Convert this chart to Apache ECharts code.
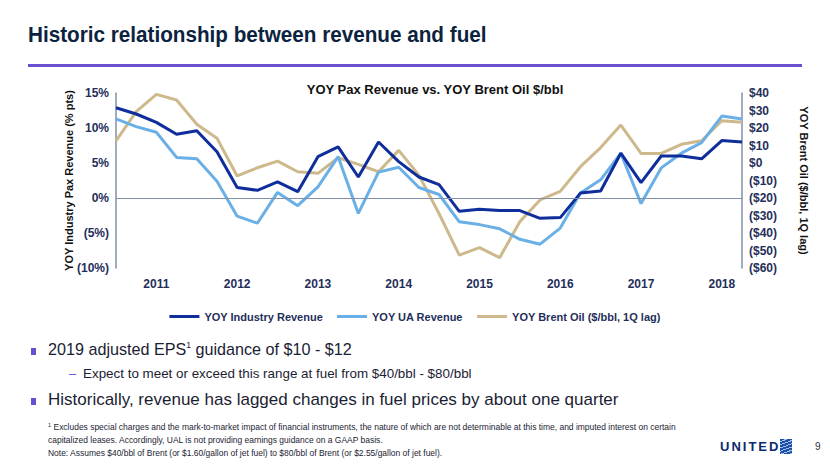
<!DOCTYPE html>
<html>
<head>
<meta charset="utf-8">
<script src="https://cdn.jsdelivr.net/npm/echarts@6/dist/echarts.min.js"></script>
<style>
  html, body { margin:0; padding:0; width:830px; height:467px; overflow:hidden; background:#fff; }
  #chart { position:absolute; left:0; top:0; width:830px; height:467px; }
  .t { position:absolute; white-space:nowrap; font-family:"Liberation Sans Narrow","Arial Narrow","Liberation Sans",Arial,sans-serif; transform-origin:left top; }
</style>
</head>
<body>
<div id="chart"></div>
<div class="t" style="left:28px;top:22px;font-size:22px;font-weight:bold;color:#0c2340;transform:scaleX(0.94);">Historic relationship between revenue and fuel</div>
<div style="position:absolute;left:28px;top:64px;width:774px;height:3px;background:#6a4fd0;"></div>
<div style="position:absolute;left:31px;top:348px;width:5px;height:7px;background:#6a4fd0;"></div>
<div class="t" style="left:48px;top:340px;font-size:17px;color:#1b1d33;transform:scaleX(0.95);">2019 adjusted EPS<sup style="font-size:9px;vertical-align:7px;line-height:0;">1</sup> guidance of $10 - $12</div>
<div class="t" style="left:69px;top:366px;font-size:13px;color:#6a4fd0;">–</div>
<div class="t" style="left:83px;top:366px;font-size:13.4px;color:#1b1d33;">Expect to meet or exceed this range at fuel from $40/bbl - $80/bbl</div>
<div style="position:absolute;left:31px;top:398px;width:5px;height:7px;background:#6a4fd0;"></div>
<div class="t" style="left:48px;top:390px;font-size:17px;color:#1b1d33;">Historically, revenue has lagged changes in fuel prices by about one quarter</div>
<div class="t" style="left:48px;top:421px;font-size:9px;line-height:13px;color:#1b1d33;transform:scaleX(0.94);"><sup style="font-size:6px;vertical-align:3px;line-height:0;">1</sup> Excludes special charges and the mark-to-market impact of financial instruments, the nature of which are not determinable at this time, and imputed interest on certain<br>capitalized leases. Accordingly, UAL is not providing earnings guidance on a GAAP basis.<br>Note: Assumes $40/bbl of Brent (or $1.60/gallon of jet fuel) to $80/bbl of Brent (or $2.55/gallon of jet fuel).</div>
<div class="t" style="left:720px;top:439px;font-size:13px;font-weight:bold;letter-spacing:2px;color:#0b2a6e;font-family:'Liberation Sans',Arial,sans-serif;">UNITED</div>
<div style="position:absolute;left:780px;top:439px;width:12px;height:15px;background:repeating-linear-gradient(160deg,#1e4fa8 0 2px,#9fc2ea 2px 3px);"></div>
<div class="t" style="left:815px;top:441px;font-size:10px;color:#333;font-family:'Liberation Sans',Arial,sans-serif;">9</div>
<script>
// Quarterly categories (3Q10 .. 2Q18)
const quarters = ['3Q10','4Q10',
  '1Q11','2Q11','3Q11','4Q11',
  '1Q12','2Q12','3Q12','4Q12',
  '1Q13','2Q13','3Q13','4Q13',
  '1Q14','2Q14','3Q14','4Q14',
  '1Q15','2Q15','3Q15','4Q15',
  '1Q16','2Q16','3Q16','4Q16',
  '1Q17','2Q17','3Q17','4Q17',
  '1Q18','2Q18'];
// YOY Industry Revenue (% pts)
const industryRevenue = [12.9, 12.0, 10.8, 9.1, 9.6, 6.6, 1.5, 1.1, 2.3, 0.9, 5.9, 7.3, 3.0, 8.0, 5.2, 3.0,
  1.9, -1.9, -1.6, -1.8, -1.8, -2.9, -2.8, 0.7, 1.0, 6.4, 2.2, 6.0, 6.0, 5.6, 8.2, 8.0];
// YOY UA Revenue (% pts)
const uaRevenue = [11.3, 10.2, 9.4, 5.8, 5.6, 2.4, -2.6, -3.6, 0.8, -1.1, 1.6, 5.9, -2.2, 3.7, 4.4, 1.5,
  0.5, -3.4, -3.8, -4.4, -5.9, -6.6, -4.3, 0.7, 2.6, 6.4, -0.8, 4.3, 6.4, 7.9, 11.7, 11.3];
// YOY Brent Oil ($/bbl, 1Q lag)
const brentOil = [12.6, 29.3, 39.2, 36.0, 22.1, 14.1, -7.4, -2.7, 1.1, -5.0, -5.9, 3.0, -0.8, -5.0, 7.2, -6.9,
  -29.0, -52.6, -48.4, -54.1, -33.5, -21.1, -16.2, -2.1, 8.8, 21.7, 5.5, 5.5, 10.7, 12.7, 24.2, 23.3];
// Axis ticks
const leftTicks = {min: -10, max: 15, interval: 5};
const rightTicks = {min: -60, max: 40, interval: 10};
const seriesNames = ['YOY Industry Revenue', 'YOY UA Revenue', 'YOY Brent Oil ($/bbl, 1Q lag)'];
const chartTitle = 'YOY Pax Revenue vs. YOY Brent Oil $/bbl';
const leftAxisName = 'YOY Industry Pax Revenue (% pts)';
const rightAxisName = 'YOY Brent Oil ($/bbl, 1Q lag)';

const chart = echarts.init(document.getElementById('chart'), null, {renderer: 'svg'});
const labelColor = '#1f2f5a';
const axisColor = '#8090a8';
const font = 'Liberation Sans, Arial, sans-serif';

chart.setOption({
  animation: false,
  title: {
    text: chartTitle, left: 430, top: 78, textAlign: 'center',
    textStyle: {fontFamily: font, fontSize: 13, fontWeight: 'bold', color: '#111'}
  },
  legend: {
    data: seriesNames, top: 306, left: 'center',
    itemWidth: 30, itemHeight: 3, itemGap: 14,
    icon: 'rect',
    textStyle: {fontFamily: font, fontSize: 11, fontWeight: 'bold', color: labelColor}
  },
  grid: {left: 116, right: 88, top: 93, bottom: 199, containLabel: false},
  xAxis: {
    type: 'category', data: quarters, boundaryGap: false,
    axisLine: {show: false}, axisTick: {show: false},
    axisLabel: {
      interval: 0, margin: 10,
      formatter: q => q.startsWith('1Q') ? '20' + q.slice(2) : '',
      fontFamily: font, fontSize: 12, fontWeight: 'bold', color: labelColor
    },
    splitLine: {show: false}
  },
  yAxis: [{
    type: 'value', min: leftTicks.min, max: leftTicks.max, interval: leftTicks.interval,
    position: 'left',
    name: leftAxisName, nameLocation: 'middle', nameGap: 42, nameRotate: 90,
    nameMoveOverlap: false,
    nameTextStyle: {fontFamily: font, fontSize: 11, fontWeight: 'bold', color: '#111'},
    axisLine: {show: true, lineStyle: {color: axisColor, width: 1.5}},
    axisTick: {show: false}, splitLine: {show: false},
    axisLabel: {
      margin: 7, fontFamily: font, fontSize: 12, fontWeight: 'bold', color: labelColor,
      formatter: v => v < 0 ? '(' + Math.abs(v) + '%)' : v + '%'
    }
  }, {
    type: 'value', min: rightTicks.min, max: rightTicks.max, interval: rightTicks.interval,
    position: 'right',
    name: rightAxisName, nameLocation: 'middle', nameGap: 56, nameRotate: -90,
    nameTextStyle: {fontFamily: font, fontSize: 11, fontWeight: 'bold', color: '#111'},
    axisLine: {show: true, lineStyle: {color: axisColor, width: 1.5}},
    axisTick: {show: false}, splitLine: {show: false},
    axisLabel: {
      margin: 7, fontFamily: font, fontSize: 12, fontWeight: 'bold', color: labelColor,
      formatter: v => v < 0 ? '($' + Math.abs(v) + ')' : '$' + v
    }
  }],
  series: [{
    name: seriesNames[0], type: 'line', yAxisIndex: 0, data: industryRevenue,
    symbol: 'none', z: 4,
    lineStyle: {color: '#0f2e9c', width: 3}, itemStyle: {color: '#0f2e9c'},
    markLine: {
      silent: true, symbol: 'none', label: {show: false},
      lineStyle: {color: axisColor, width: 1.2, type: 'solid'},
      data: [{yAxis: 0}]
    }
  }, {
    name: seriesNames[1], type: 'line', yAxisIndex: 0, data: uaRevenue,
    symbol: 'none', z: 3,
    lineStyle: {color: '#6ab0e6', width: 3}, itemStyle: {color: '#6ab0e6'}
  }, {
    name: seriesNames[2], type: 'line', yAxisIndex: 1, data: brentOil,
    symbol: 'none', z: 2,
    lineStyle: {color: '#cdb98c', width: 3}, itemStyle: {color: '#cdb98c'}
  }]
});
</script>
</body>
</html>
